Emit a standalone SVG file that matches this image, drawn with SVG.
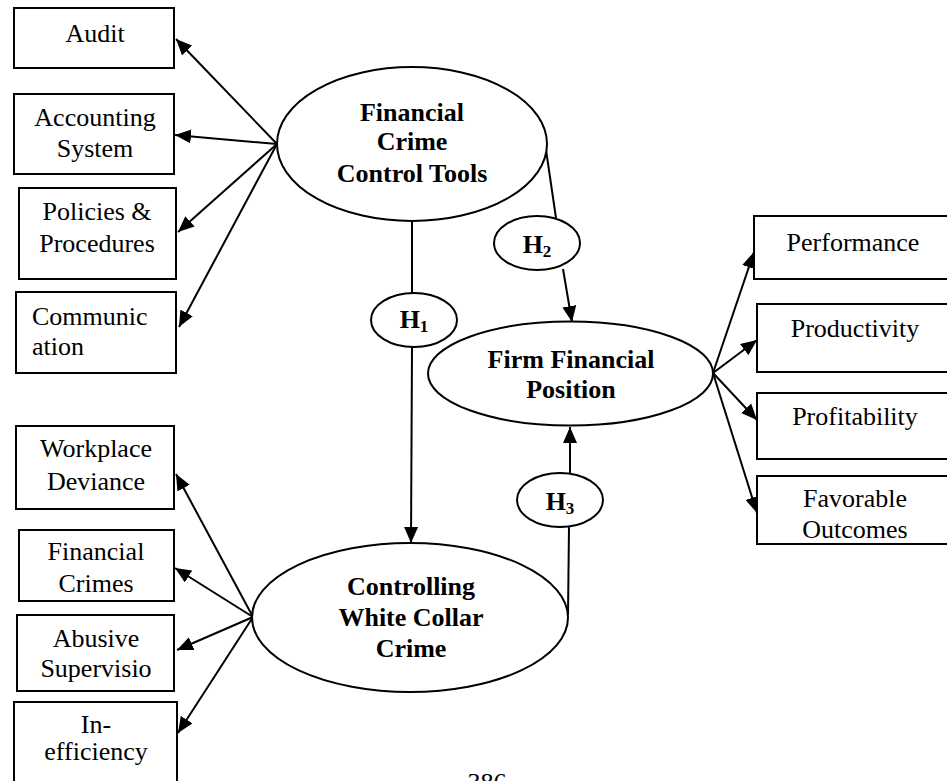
<svg xmlns="http://www.w3.org/2000/svg" width="947" height="781" viewBox="0 0 947 781">
<style>
.box{fill:#fff;stroke:#000;stroke-width:2}
.ell{fill:#fff;stroke:#000;stroke-width:2}
.t{font-family:"Liberation Serif","Times New Roman",serif;font-size:26px;fill:#000;text-anchor:middle}
.tl{font-family:"Liberation Serif","Times New Roman",serif;font-size:26px;fill:#000}
.b{font-family:"Liberation Serif","Times New Roman",serif;font-size:26px;font-weight:bold;fill:#000;text-anchor:middle}
.sub{font-size:17px}
.c{stroke:#000;stroke-width:2;fill:none}
.a{marker-end:url(#arr)}
</style>
<defs>
<marker id="arr" markerUnits="userSpaceOnUse" markerWidth="16" markerHeight="14" refX="16" refY="7" orient="auto">
<path d="M0,0 L16,7 L0,14 z" fill="#000"/>
</marker>
</defs>
<rect width="947" height="781" fill="#fff"/>

<g id="connectors">
<line class="c a" x1="277" y1="144" x2="176" y2="39"/>
<line class="c a" x1="277" y1="144" x2="175" y2="135"/>
<line class="c a" x1="277" y1="144" x2="178" y2="232"/>
<line class="c a" x1="277" y1="144" x2="179" y2="327"/>
<line class="c a" x1="253" y1="617" x2="176" y2="474"/>
<line class="c a" x1="253" y1="617" x2="175" y2="568"/>
<line class="c a" x1="253" y1="617" x2="177" y2="650"/>
<line class="c a" x1="253" y1="617" x2="178" y2="733"/>
<line class="c a" x1="713" y1="373" x2="754" y2="252"/>
<line class="c a" x1="713" y1="373" x2="757" y2="340"/>
<line class="c a" x1="713" y1="373" x2="757" y2="420"/>
<line class="c a" x1="713" y1="373" x2="757" y2="513"/>
<line class="c" x1="412" y1="221" x2="412" y2="293"/>
<line class="c a" x1="412" y1="347" x2="411" y2="543"/>
<line class="c" x1="545" y1="143" x2="556" y2="218"/>
<line class="c a" x1="563" y1="269" x2="572" y2="322"/>
<line class="c" x1="568" y1="615" x2="569" y2="527"/>
<line class="c a" x1="570" y1="473" x2="570" y2="427"/>
</g>

<g id="audit"><rect class="box" x="14" y="8" width="160" height="60"/><text class="t" x="95" y="42">Audit</text></g>
<g id="accounting"><rect class="box" x="14" y="94" width="160" height="80"/><text class="t" x="95" y="126">Accounting</text><text class="t" x="95" y="157">System</text></g>
<g id="policies"><rect class="box" x="19" y="188" width="157" height="91"/><text class="t" x="97" y="220">Policies &amp;</text><text class="t" x="97" y="252">Procedures</text></g>
<g id="communication"><rect class="box" x="16" y="292" width="160" height="81"/><text class="tl" x="32" y="325">Communic</text><text class="tl" x="32" y="355">ation</text></g>

<g id="workplace"><rect class="box" x="16" y="426" width="158" height="83"/><text class="t" x="96" y="457">Workplace</text><text class="t" x="96" y="490">Deviance</text></g>
<g id="fincrimes"><rect class="box" x="19" y="530" width="155" height="71"/><text class="t" x="96" y="560">Financial</text><text class="t" x="96" y="592">Crimes</text></g>
<g id="abusive"><rect class="box" x="17" y="615" width="157" height="76"/><text class="t" x="96" y="647">Abusive</text><text class="t" x="96" y="677">Supervisio</text></g>
<g id="inefficiency"><rect class="box" x="14" y="702" width="163" height="100"/><text class="t" x="96" y="733">In-</text><text class="t" x="96" y="760">efficiency</text></g>

<g id="performance"><rect class="box" x="754" y="216" width="210" height="63"/><text class="t" x="853" y="251">Performance</text></g>
<g id="productivity"><rect class="box" x="757" y="304" width="210" height="68"/><text class="t" x="855" y="337">Productivity</text></g>
<g id="profitability"><rect class="box" x="757" y="393" width="210" height="66"/><text class="t" x="855" y="425">Profitability</text></g>
<g id="favorable"><rect class="box" x="757" y="476" width="210" height="68"/><text class="t" x="855" y="507">Favorable</text><text class="t" x="855" y="538">Outcomes</text></g>

<g id="fcct"><ellipse class="ell" cx="412" cy="144" rx="135" ry="77"/><text class="b" x="412" y="121">Financial</text><text class="b" x="412" y="150">Crime</text><text class="b" x="412" y="182">Control Tools</text></g>
<g id="ffp"><ellipse class="ell" cx="570.5" cy="373.5" rx="142.5" ry="52"/><text class="b" x="571" y="368">Firm Financial</text><text class="b" x="571" y="398">Position</text></g>
<g id="cwcc"><ellipse class="ell" cx="410" cy="617.5" rx="158" ry="74.5"/><text class="b" x="411" y="595">Controlling</text><text class="b" x="411" y="626">White Collar</text><text class="b" x="411" y="657">Crime</text></g>

<g id="h1"><ellipse class="ell" cx="414" cy="320" rx="43" ry="27"/><text class="b" x="414" y="328">H<tspan class="sub" dy="4">1</tspan></text></g>
<g id="h2"><ellipse class="ell" cx="537" cy="243" rx="43" ry="27"/><text class="b" x="537" y="253">H<tspan class="sub" dy="4">2</tspan></text></g>
<g id="h3"><ellipse class="ell" cx="560" cy="500" rx="43" ry="27"/><text class="b" x="560" y="510">H<tspan class="sub" dy="4">3</tspan></text></g>

<text class="t" x="487" y="791">386</text>
</svg>
